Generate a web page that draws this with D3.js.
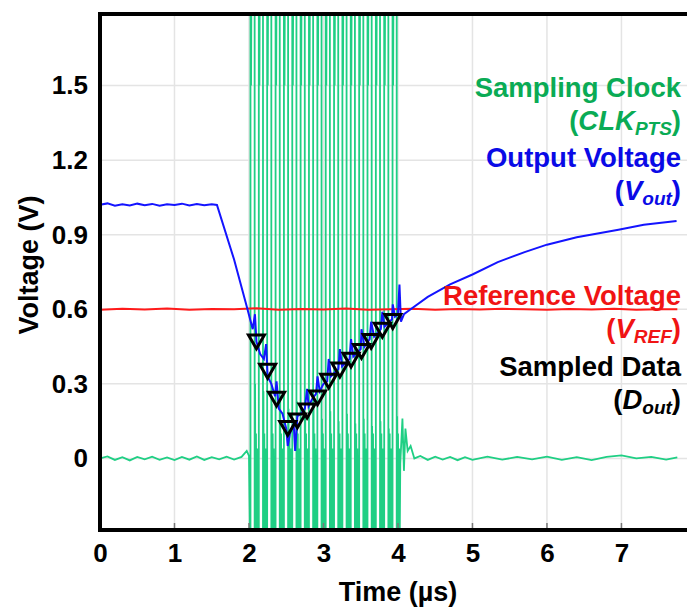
<!DOCTYPE html>
<html>
<head>
<meta charset="utf-8">
<script src="https://cdn.jsdelivr.net/npm/d3@7/dist/d3.min.js"></script>
<style>
	body { margin: 0; background: #fff; }
	svg { display: block; font-family: Arial, 'Liberation Sans', sans-serif; font-weight: bold; }
</style>
</head>
<body>
<svg id="chart"></svg>
<script>
// tick labels
var timeTicks = [0, 1, 2, 3, 4, 5, 6, 7];
var voltTicks = [0, 0.3, 0.6, 0.9, 1.2, 1.5];

// reference voltage V_REF (red)
var vrefTime = [0, 0.3, 0.6, 0.9, 1.2, 1.5, 1.8, 2.1, 2.4, 2.7, 3.0, 3.3, 3.6, 3.9, 4.2, 4.5, 4.8, 5.1, 5.4, 5.7, 6.0, 6.3, 6.6, 6.9, 7.2, 7.5, 7.75];
var vrefVolt = [0.598, 0.602, 0.599, 0.603, 0.598, 0.601, 0.6, 0.604, 0.598, 0.601, 0.599, 0.603, 0.598, 0.6, 0.602, 0.598, 0.601, 0.599, 0.602, 0.6, 0.598, 0.601, 0.599, 0.602, 0.598, 0.6, 0.6];

// output voltage V_out (blue)
var voutTime = [0, 0.1, 0.2, 0.3, 0.4, 0.5, 0.6, 0.7, 0.8, 0.9, 1.0, 1.1, 1.2, 1.3, 1.4, 1.5, 1.57, 1.8, 1.98, 2.05, 2.08, 2.1, 2.15, 2.2, 2.23, 2.25, 2.3, 2.35, 2.37, 2.4, 2.45, 2.5, 2.52, 2.55, 2.6, 2.62, 2.65, 2.7, 2.75, 2.78, 2.8, 2.85, 2.9, 2.92, 2.95, 3.0, 3.05, 3.07, 3.1, 3.2, 3.22, 3.25, 3.35, 3.37, 3.4, 3.5, 3.51, 3.55, 3.62, 3.64, 3.68, 3.77, 3.79, 3.82, 3.92, 3.93, 3.96, 4.0, 4.02, 4.04, 4.08, 4.17, 4.4, 4.7, 5.0, 5.34, 5.7, 6.0, 6.4, 6.96, 7.3, 7.74];
var voutVolt = [1.02, 1.026, 1.017, 1.023, 1.018, 1.025, 1.019, 1.024, 1.017, 1.023, 1.02, 1.025, 1.018, 1.024, 1.019, 1.023, 1.02, 0.8, 0.6, 0.52, 0.58, 0.47, 0.42, 0.4, 0.46, 0.33, 0.3, 0.25, 0.31, 0.2, 0.18, 0.12, 0.05, 0.1, 0.14, 0.03, 0.17, 0.18, 0.2, 0.28, 0.21, 0.24, 0.26, 0.33, 0.27, 0.3, 0.31, 0.4, 0.33, 0.36, 0.44, 0.37, 0.4, 0.48, 0.41, 0.44, 0.52, 0.45, 0.48, 0.55, 0.49, 0.52, 0.59, 0.53, 0.56, 0.62, 0.57, 0.58, 0.7, 0.55, 0.58, 0.6, 0.65, 0.7, 0.74, 0.79, 0.83, 0.86, 0.89, 0.92, 0.94, 0.955];

// sampled data D_out (triangles)
var doutTime = [2.1, 2.25, 2.37, 2.52, 2.65, 2.78, 2.92, 3.07, 3.22, 3.37, 3.51, 3.64, 3.79, 3.93];
var doutVolt = [0.478, 0.36, 0.248, 0.13, 0.16, 0.2, 0.253, 0.32, 0.365, 0.405, 0.44, 0.48, 0.525, 0.56];

// sampling clock CLK_PTS (green): idle level before / after the burst
var clkIdleTime = [0, 0.1, 0.2, 0.3, 0.4, 0.5, 0.6, 0.7, 0.8, 0.9, 1.0, 1.1, 1.2, 1.3, 1.4, 1.5, 1.6, 1.7, 1.8, 1.9, 1.97, 2.0, 4.06, 4.08, 4.1, 4.13, 4.17, 4.22, 4.3, 4.4, 4.5, 4.6, 4.7, 4.8, 4.9, 5.0, 5.2, 5.4, 5.6, 5.8, 6.0, 6.2, 6.4, 6.6, 6.8, 7.0, 7.2, 7.4, 7.6, 7.75];
var clkIdleVolt = [0.0, 0.008, -0.006, 0.005, -0.008, 0.006, -0.004, 0.007, -0.006, 0.004, -0.007, 0.006, -0.005, 0.008, -0.006, 0.005, -0.004, 0.007, -0.005, 0.006, 0.03, 0.01, 0.16, -0.05, 0.12, 0.03, 0.05, 0.0, 0.01, -0.006, 0.007, -0.005, 0.006, -0.007, 0.005, -0.006, 0.007, -0.005, 0.006, -0.004, 0.007, -0.006, 0.005, -0.007, 0.006, 0.012, 0.0, 0.006, -0.005, 0.004];
// clock edges
var clkRise = [2.02, 2.132, 2.244, 2.357, 2.469, 2.581, 2.693, 2.805, 2.918, 3.03, 3.142, 3.254, 3.366, 3.479, 3.591, 3.703, 3.815, 3.927];
var clkFall = [2.076, 2.188, 2.3, 2.413, 2.525, 2.637, 2.749, 2.861, 2.974, 3.086, 3.198, 3.31, 3.422, 3.535, 3.647, 3.759, 3.871, 3.983];
// ringing after a rising edge (time after edge, volts)
var highDt = [0, 0.008, 0.016];
var highVolt = [2.2, 1.5, 2.2];
// ringing after each falling edge (time after edge, volts)
var ringDt = [0, 0.006, 0.012, 0.018, 0.025, 0.032, 0.04, 0.048];
var ringVolt = [-0.6, 0.28, -0.5, 0.1, -0.4, 0.04, -0.35, -0.02];
// peak of the first overshoot per cycle
var ringPeak = [0.3, 0.27, 0.22, 0.25, 0.2, 0.23, 0.18, 0.21, 0.16, 0.19, 0.15, 0.18, 0.14, 0.16, 0.13, 0.15, 0.12, 0.17];

var width = 687;
var height = 607;
var margin = { left: 100, top: 14, right: 0, bottom: 77 };

var svg = d3.select('#chart').attr('width', width).attr('height', height);

var x = d3
	.scaleLinear()
	.domain([0, 7.88])
	.range([margin.left, width - margin.right]);
var y = d3
	.scaleLinear()
	.domain([-0.288, 1.788])
	.range([height - margin.bottom, margin.top]);

svg.append('clipPath')
	.attr('id', 'plotClip')
	.append('rect')
	.attr('x', margin.left)
	.attr('y', margin.top)
	.attr('width', width - margin.left - margin.right)
	.attr('height', height - margin.top - margin.bottom);

// grid
var grid = svg.append('g').attr('stroke', '#e4e4e4').attr('stroke-width', 1.5);
grid.selectAll('line.vx')
	.data(timeTicks.slice(1))
	.enter()
	.append('line')
	.attr('x1', function(d) { return x(d); })
	.attr('x2', function(d) { return x(d); })
	.attr('y1', y.range()[1])
	.attr('y2', y.range()[0]);
grid.selectAll('line.hy')
	.data(voltTicks)
	.enter()
	.append('line')
	.attr('x1', x.range()[0])
	.attr('x2', x.range()[1])
	.attr('y1', function(d) { return y(d); })
	.attr('y2', function(d) { return y(d); });

var plot = svg.append('g').attr('clip-path', 'url(#plotClip)');

// clock trace
var clkPts = [];
for (var i = 0; i < clkIdleTime.length; i++) {
	if (clkIdleTime[i] <= 2.0) clkPts.push([clkIdleTime[i], clkIdleVolt[i]]);
}
for (var k = 0; k < clkRise.length; k++) {
	clkPts.push([clkRise[k], -0.5]);
	highDt.forEach(function(dt, r) {
		clkPts.push([clkRise[k] + dt, highVolt[r]]);
	});
	clkPts.push([clkFall[k], 2.2]);
	var next = k + 1 < clkRise.length ? clkRise[k + 1] : 4.05;
	ringDt.forEach(function(dt, r) {
		var t = clkFall[k] + dt;
		if (t >= next) return;
		var v = r === 1 ? ringPeak[k] : ringVolt[r];
		clkPts.push([t, v]);
	});
}
for (var j = 0; j < clkIdleTime.length; j++) {
	if (clkIdleTime[j] > 4.0) clkPts.push([clkIdleTime[j], clkIdleVolt[j]]);
}

var line = d3
	.line()
	.x(function(d) { return x(d[0]); })
	.y(function(d) { return y(d[1]); });

plot.append('path')
	.attr('d', line(clkPts))
	.attr('fill', 'none')
	.attr('stroke', '#1fcf84')
	.attr('stroke-width', 1.8);

plot.append('path')
	.attr('d', line(d3.zip(vrefTime, vrefVolt)))
	.attr('fill', 'none')
	.attr('stroke', '#ff1a1a')
	.attr('stroke-width', 2);

plot.append('path')
	.attr('d', line(d3.zip(voutTime, voutVolt)))
	.attr('fill', 'none')
	.attr('stroke', '#1414ff')
	.attr('stroke-width', 2);

plot.selectAll('path.dout')
	.data(d3.zip(doutTime, doutVolt))
	.enter()
	.append('path')
	.attr('class', 'dout')
	.attr('d', d3.symbol().type(d3.symbolTriangle).size(110))
	.attr('transform', function(d) {
		return 'translate(' + x(d[0]) + ',' + y(d[1]) + ') rotate(180)';
	})
	.attr('fill', 'none')
	.attr('stroke', '#000')
	.attr('stroke-width', 3);

// frame: left axis, top border, bottom axis
svg.append('line')
	.attr('x1', margin.left).attr('x2', width)
	.attr('y1', y.range()[1]).attr('y2', y.range()[1])
	.attr('stroke', '#000').attr('stroke-width', 4);
svg.append('line')
	.attr('x1', margin.left).attr('x2', width)
	.attr('y1', y.range()[0]).attr('y2', y.range()[0])
	.attr('stroke', '#000').attr('stroke-width', 4);
svg.append('line')
	.attr('x1', margin.left).attr('x2', margin.left)
	.attr('y1', y.range()[1] - 2).attr('y2', y.range()[0] + 2)
	.attr('stroke', '#000').attr('stroke-width', 4);

var xAxis = d3.axisBottom(x).tickValues(timeTicks).tickSize(0).tickPadding(14);
svg.append('g')
	.attr('transform', 'translate(0,' + y.range()[0] + ')')
	.call(xAxis)
	.call(function(g) { g.select('.domain').remove(); })
	.selectAll('text')
	.attr('font-size', 26)
	.attr('font-weight', 'bold')
	.attr('font-family', 'Arial, Liberation Sans, sans-serif')
	.attr('fill', '#000');

// small inward tick marks on the time axis
svg.append('g')
	.selectAll('line')
	.data(timeTicks.slice(1))
	.enter()
	.append('line')
	.attr('x1', function(d) { return x(d); })
	.attr('x2', function(d) { return x(d); })
	.attr('y1', y.range()[0] - 2)
	.attr('y2', y.range()[0] - 7)
	.attr('stroke', '#777')
	.attr('stroke-width', 1.5);

var yAxis = d3.axisLeft(y).tickValues(voltTicks).tickSize(0).tickPadding(12).tickFormat(function(d) { return d === 0 ? '0' : d3.format('.1f')(d); });
svg.append('g')
	.attr('transform', 'translate(' + margin.left + ',0)')
	.call(yAxis)
	.call(function(g) { g.select('.domain').remove(); })
	.selectAll('text')
	.attr('font-size', 26)
	.attr('font-weight', 'bold')
	.attr('font-family', 'Arial, Liberation Sans, sans-serif')
	.attr('fill', '#000');

svg.append('text')
	.attr('x', 398)
	.attr('y', 601)
	.attr('text-anchor', 'middle')
	.attr('font-size', 27)
	.text('Time (µs)');

svg.append('text')
	.attr('transform', 'translate(38,265) rotate(-90)')
	.attr('text-anchor', 'middle')
	.attr('font-size', 27)
	.text('Voltage (V)');

// legend labels, right aligned
var legend = [
	{ y: 97, color: '#0aab55', main: 'Sampling Clock', sym: 'CLK', sub: 'PTS' },
	{ y: 167, color: '#0a0ae6', main: 'Output Voltage', sym: 'V', sub: 'out' },
	{ y: 305, color: '#f01414', main: 'Reference Voltage', sym: 'V', sub: 'REF' },
	{ y: 376, color: '#000000', main: 'Sampled Data', sym: 'D', sub: 'out' }
];
legend.forEach(function(l) {
	svg.append('text')
		.attr('x', 681)
		.attr('y', l.y)
		.attr('text-anchor', 'end')
		.attr('font-size', 27.5)
		.attr('fill', l.color)
		.text(l.main);
	var t = svg.append('text')
		.attr('x', 681)
		.attr('y', l.y + 33)
		.attr('text-anchor', 'end')
		.attr('font-size', 27.5)
		.attr('fill', l.color);
	t.append('tspan').text('(');
	t.append('tspan').attr('font-style', 'italic').text(l.sym);
	t.append('tspan').attr('font-style', 'italic').attr('font-size', 19).attr('dy', 5).text(l.sub);
	t.append('tspan').attr('dy', -5).text(')');
});
</script>
</body>
</html>
